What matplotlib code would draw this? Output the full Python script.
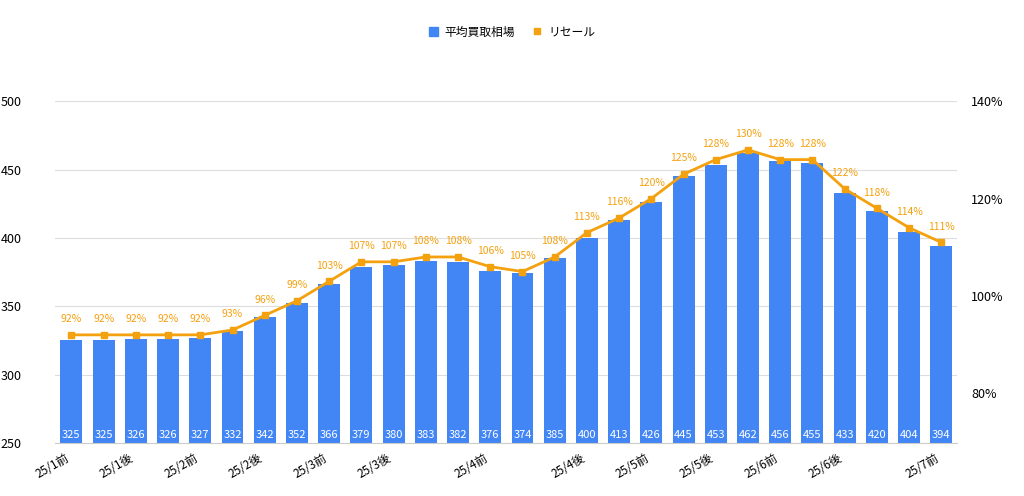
import matplotlib
matplotlib.use("Agg")
import matplotlib.pyplot as plt
import numpy as np

plt.rcParams["font.family"] = ["Noto Sans CJK JP"]

# data
periods = ["25/1前", "", "25/1後", "", "25/2前", "", "25/2後", "", "25/3前", "", "25/3後", "", "", "25/4前",
           "", "", "25/4後", "", "25/5前", "", "25/5後", "", "25/6前", "", "25/6後", "", "", "25/7前"]
avg_price = [325, 325, 326, 326, 327, 332, 342, 352, 366, 379, 380, 383, 382, 376,
             374, 385, 400, 413, 426, 445, 453, 462, 456, 455, 433, 420, 404, 394]
resale_pct = [92, 92, 92, 92, 92, 93, 96, 99, 103, 107, 107, 108, 108, 106,
              105, 108, 113, 116, 120, 125, 128, 130, 128, 128, 122, 118, 114, 111]

blue = "#4285F4"
orange = "#F4A10F"

fig = plt.figure(figsize=(10.24, 4.96), dpi=100)
ax = fig.add_axes([0.054, 0.107, 0.881, 0.689])
ax2 = ax.twinx()

x = np.arange(len(avg_price))
bars = ax.bar(x, avg_price, width=0.68, color=blue, zorder=2)
for xi, v in zip(x, avg_price):
    ax.text(xi, 252, str(v), color="white", fontsize=8, ha="center", va="bottom", zorder=3)

ax.set_ylim(250, 500)
ax.set_yticks([250, 300, 350, 400, 450, 500])
ax.set_xlim(-0.5, len(x) - 0.5)
ax.set_xticks(x)
ax.set_xticklabels(periods, rotation=30, ha="right", fontsize=8.5)
ax.tick_params(axis="x", length=0, pad=6)
ax.tick_params(axis="y", length=0, labelsize=9, pad=24)
ax.grid(axis="y", color="#DDDDDD", linewidth=0.8, zorder=0)
for s in ["top", "right", "left"]:
    ax.spines[s].set_visible(False)
ax.spines["bottom"].set_color("#CCCCCC")

ax2.plot(x, resale_pct, color=orange, linewidth=2, marker="s", markersize=5, zorder=4)
for xi, p in zip(x, resale_pct):
    ax2.text(xi, p + 2.2, f"{p}%", color=orange, fontsize=7.5, ha="center", va="bottom")
ax2.set_ylim(69.8, 140)
ax2.set_yticks([80, 100, 120, 140])
ax2.set_yticklabels(["80%", "100%", "120%", "140%"])
ax2.tick_params(axis="y", length=0, labelsize=9, pad=10)
for s in ["top", "right", "left", "bottom"]:
    ax2.spines[s].set_visible(False)

from matplotlib.patches import Patch
from matplotlib.lines import Line2D
handles = [Patch(color=blue), Line2D([], [], color=orange, marker="s", linestyle="none", markersize=5)]
fig.legend(handles, ["平均買取相場", "リセール"], loc="upper center", bbox_to_anchor=(0.5, 0.97),
           ncol=2, frameon=False, fontsize=8.5, handlelength=0.8, handletextpad=0.5, columnspacing=1.5)

fig.savefig("out.png", dpi=100)
